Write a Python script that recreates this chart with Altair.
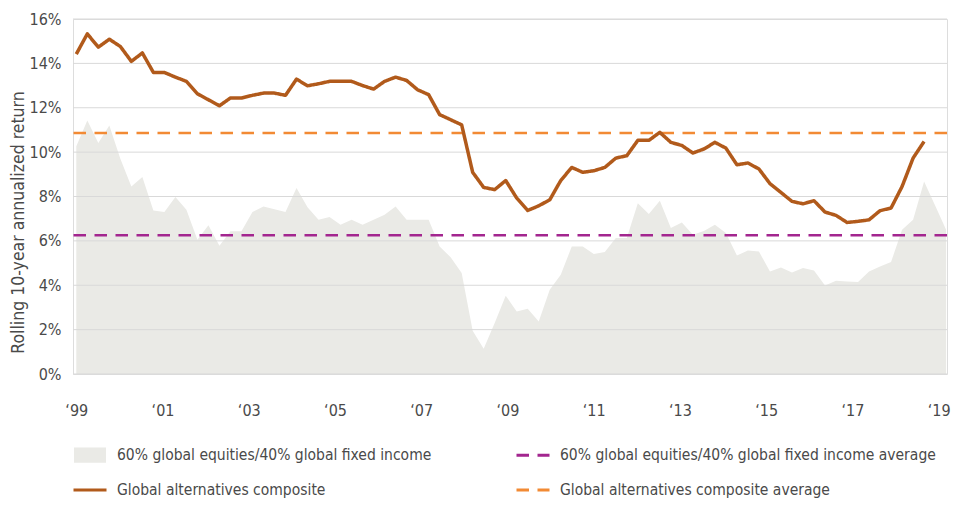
import altair as alt
import pandas as pd

# ---- data ----
ALT_COMPOSITE = [
    14.42, 15.33, 14.73, 15.09, 14.76, 14.09, 14.47, 13.59, 13.59, 13.38,
    13.19, 12.63, 12.36, 12.09, 12.44, 12.44, 12.56, 12.66, 12.66, 12.56,
    13.29, 12.99, 13.08, 13.19, 13.19, 13.19, 13.00, 12.84, 13.19, 13.38,
    13.23, 12.81, 12.59, 11.69, 11.46, 11.23, 9.09, 8.41, 8.31, 8.72,
    7.93, 7.37, 7.58, 7.85, 8.72, 9.31, 9.09, 9.16, 9.31, 9.73,
    9.84, 10.53, 10.53, 10.89, 10.44, 10.30, 9.96, 10.14, 10.44, 10.18,
    9.43, 9.51, 9.24, 8.58, 8.18, 7.78, 7.67, 7.81, 7.30, 7.15,
    6.83, 6.88, 6.95, 7.36, 7.48, 8.45, 9.73, 10.48,
]
BALANCED_60_40 = [
    10.26, 11.43, 10.41, 11.20, 9.70, 8.45, 8.88, 7.37, 7.30, 7.98,
    7.40, 6.05, 6.70, 5.78, 6.43, 6.43, 7.30, 7.55, 7.42, 7.30,
    8.38, 7.52, 6.95, 7.08, 6.73, 6.95, 6.73, 6.95, 7.18, 7.55,
    6.95, 6.95, 6.95, 5.75, 5.26, 4.55, 1.95, 1.14, 2.30, 3.53,
    2.82, 2.94, 2.37, 3.80, 4.47, 5.75, 5.75, 5.41, 5.50, 6.13,
    6.13, 7.70, 7.21, 7.81, 6.58, 6.83, 6.28, 6.45, 6.73, 6.35,
    5.34, 5.57, 5.52, 4.62, 4.80, 4.58, 4.78, 4.67, 3.99, 4.20,
    4.17, 4.15, 4.62, 4.85, 5.05, 6.50, 6.95, 8.68, 7.60, 6.50,
]
AVG_BALANCED = 6.25
AVG_ALT = 10.86

SERIES = [
    "60% global equities/40% global fixed income",
    "60% global equities/40% global fixed income average",
    "Global alternatives composite",
    "Global alternatives composite average",
]
FILLS = ["#EAEAE6", "transparent", "transparent", "transparent"]
STROKES = ["transparent", "#A3268F", "#B15A1B", "#F28A34"]
DASHES = [[1, 0], [12.5, 8.5], [1, 0], [12.5, 8.5]]
RECT_KEY = "M-0.97,-0.46H0.97V0.46H-0.97Z"
LINE_KEY = "M-1,-0.46M-1,0.46M-1,0H1"
SHAPES = [RECT_KEY, LINE_KEY, LINE_KEY, LINE_KEY]

X_TICK_LABELS = ["\u201899", "\u201801", "\u201803", "\u201805", "\u201807", "\u201809",
                 "\u201811", "\u201813", "\u201815", "\u201817", "\u201819"]
Y_TICKS = [0, 2, 4, 6, 8, 10, 12, 14, 16]

# points per labelled two-year step on the x axis
LABEL_STEP = 7.832
x_tick_vals = [round(k * LABEL_STEP, 3) for k in range(len(X_TICK_LABELS))]

line_df = pd.DataFrame({"i": range(len(ALT_COMPOSITE)), "v": ALT_COMPOSITE, "series": SERIES[2]})
area_df = pd.DataFrame({"i": range(len(BALANCED_60_40)), "v": BALANCED_60_40, "series": SERIES[0]})
avg_df = pd.DataFrame({"v": [AVG_BALANCED, AVG_ALT], "series": [SERIES[1], SERIES[3]]})
grid_df = pd.DataFrame({"v": Y_TICKS})

FONT = "DejaVu Sans Condensed, Roboto, sans-serif"
TXT = "#4a4a4a"
FS = 16

label_arr = "[" + ",".join("'" + s + "'" for s in X_TICK_LABELS) + "]"

x_scale = alt.Scale(domain=[-0.3, 79.08], nice=False, zero=False)
y_scale = alt.Scale(domain=[0, 16], nice=False)

x_axis = alt.Axis(values=x_tick_vals, labelExpr=label_arr + "[round(datum.value/" + str(LABEL_STEP) + ")]",
                  title=None, grid=False, domain=False, ticks=False, labelPadding=28,
                  labelFont=FONT, labelFontSize=FS, labelColor=TXT)
y_axis = alt.Axis(values=Y_TICKS, labelExpr="datum.value + '%'", title="Rolling 10-year annualized return",
                  grid=False, domain=False, ticks=False, labelPadding=12,
                  labelFont=FONT, labelFontSize=FS, labelColor=TXT,
                  titleFont=FONT, titleFontSize=17.5, titleColor=TXT, titleFontWeight="normal",
                  titleX=-55, titleY=203, titleAngle=-90, titleAlign="center", titleBaseline="middle")

legend = alt.Legend(
    title=None, orient="none", legendX=-1, legendY=418, columns=2, direction="horizontal",
    columnPadding=78, rowPadding=3, symbolSize=1089, symbolStrokeWidth=3, labelOffset=9, padding=0,
    labelFont=FONT, labelFontSize=15.5, labelColor=TXT, labelLimit=500,
)

fill_enc = alt.Fill("series:N", scale=alt.Scale(domain=SERIES, range=FILLS), legend=legend)
stroke_enc = alt.Stroke("series:N", scale=alt.Scale(domain=SERIES, range=STROKES), legend=legend)
dash_enc = alt.StrokeDash("series:N", scale=alt.Scale(domain=SERIES, range=DASHES), legend=legend)
shape_enc = alt.Shape("series:N", scale=alt.Scale(domain=SERIES, range=SHAPES), legend=legend)

area = alt.Chart(area_df).mark_area(opacity=1, interpolate="linear").encode(
    x=alt.X("i:Q", scale=x_scale, axis=x_axis),
    y=alt.Y("v:Q", scale=y_scale, axis=y_axis),
    fill=fill_enc,
)

grid = alt.Chart(grid_df).mark_rule(color="#D9D9D9", strokeWidth=1).encode(
    y=alt.Y("v:Q", scale=y_scale),
)

avg = alt.Chart(avg_df).mark_rule(strokeWidth=2.5).encode(
    y=alt.Y("v:Q", scale=y_scale),
    stroke=stroke_enc,
    strokeDash=dash_enc,
)

line = alt.Chart(line_df).mark_line(strokeWidth=3.5, strokeJoin="round").encode(
    x=alt.X("i:Q", scale=x_scale),
    y=alt.Y("v:Q", scale=y_scale),
    stroke=stroke_enc,
    strokeDash=dash_enc,
)

# legend-only layer (no rows): carries the per-series symbol shapes
keys = alt.Chart(alt.Data(values=[{"series": SERIES[0], "v": None}])).transform_filter(
    "datum.v != null"
).mark_point(size=0).encode(
    shape=shape_enc,
)

chart = alt.layer(area, grid, avg, line, keys).properties(
    width=874, height=355,
    padding={"left": 65, "top": 11, "right": 6, "bottom": 124},
    autosize=alt.AutoSizeParams(type="none"),
).configure_view(stroke=None).configure(background="white")

chart.save("out.html", embed_options={"renderer": "svg", "actions": False})
